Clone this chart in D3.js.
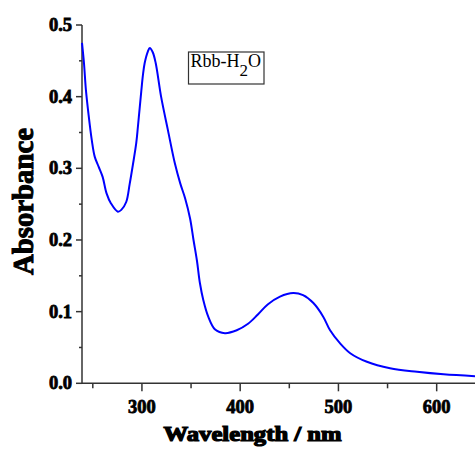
<!DOCTYPE html>
<html><head><meta charset="utf-8">
<script src="https://cdn.jsdelivr.net/npm/d3@7"></script>
<style>body{margin:0;background:#fff}svg{display:block}</style>
</head><body>
<svg id="c" width="475" height="450"></svg>
<script>
const wavelength = [239,241,243,245.5,249,252,256,260,264,268.5,275.5,279,284,287.5,290.8,294.2,295.9,297.7,299.3,301,302.8,306,308,311,314,319.5,326.5,333.5,339,344,349,352.5,356,359,362.5,367.5,374.5,384.5,396.5,408,418,428,440.5,454,464,474.5,484.5,491.5,501.5,512,529,552.5,580,607,639];
const absorbance = [0.475,0.447,0.409,0.377,0.339,0.316,0.302,0.288,0.265,0.251,0.2395,0.242,0.253,0.278,0.305,0.335,0.358,0.384,0.407,0.430,0.447,0.463,0.468,0.462,0.447,0.400,0.353,0.307,0.279,0.258,0.230,0.200,0.171,0.140,0.116,0.093,0.075,0.070,0.074,0.083,0.096,0.110,0.121,0.126,0.123,0.112,0.093,0.074,0.056,0.042,0.030,0.021,0.016,0.0125,0.010];
const xTicks = [300,400,500,600];
const xMinor = [250,350,450,550];
const yTicks = [0.0,0.1,0.2,0.3,0.4,0.5];
const yMinor = [0.05,0.15,0.25,0.35,0.45];
const legendLabel = ["Rbb-H","2","O"];
const xTitle = "Wavelength / nm";
const yTitle = "Absorbance";

const svg = d3.select("#c");
const x = d3.scaleLinear().domain([239,639]).range([82,475]);
const y = d3.scaleLinear().domain([0,0.5]).range([383.3,25]);
const axisColor = "#333";
const font = "'Liberation Serif','Times New Roman',serif";

// x axis
const gx = svg.append("g").attr("transform","translate(0,383.3)");
gx.append("line").attr("x1",82).attr("x2",475).attr("stroke",axisColor).attr("stroke-width",1.5);
gx.selectAll(".mj").data(xTicks).enter().append("line")
  .attr("x1",d=>x(d)).attr("x2",d=>x(d)).attr("y1",0).attr("y2",8).attr("stroke",axisColor).attr("stroke-width",1.5);
gx.selectAll(".mn").data(xMinor).enter().append("line")
  .attr("x1",d=>x(d)).attr("x2",d=>x(d)).attr("y1",0).attr("y2",5).attr("stroke",axisColor).attr("stroke-width",1.5);
gx.selectAll("text").data(xTicks).enter().append("text")
  .attr("x",d=>x(d)).attr("y",30).attr("text-anchor","middle")
  .attr("font-family",font).attr("font-weight","bold").attr("font-size",18.5)
  .attr("stroke","#000").attr("stroke-width",0.8).attr("fill","#000")
  .text(d=>d);

// y axis
const gy = svg.append("g").attr("transform","translate(82,0)");
gy.append("line").attr("y1",25).attr("y2",383.3).attr("stroke",axisColor).attr("stroke-width",1.5);
gy.selectAll(".mj").data(yTicks).enter().append("line")
  .attr("y1",d=>y(d)).attr("y2",d=>y(d)).attr("x1",-6).attr("x2",0).attr("stroke",axisColor).attr("stroke-width",1.5);
gy.selectAll(".mn").data(yMinor).enter().append("line")
  .attr("y1",d=>y(d)).attr("y2",d=>y(d)).attr("x1",-3).attr("x2",0).attr("stroke",axisColor).attr("stroke-width",1.5);
gy.selectAll("text").data(yTicks).enter().append("text")
  .attr("x",-10).attr("y",d=>y(d)+6).attr("text-anchor","end")
  .attr("font-family",font).attr("font-weight","bold").attr("font-size",18.5)
  .attr("stroke","#000").attr("stroke-width",0.8).attr("fill","#000")
  .text(d=>d.toFixed(1));

// titles
svg.append("text").attr("x",252.5).attr("y",441).attr("text-anchor","middle")
  .attr("font-family",font).attr("font-weight","bold").attr("font-size",20)
  .attr("textLength",178).attr("lengthAdjust","spacingAndGlyphs")
  .attr("stroke","#000").attr("stroke-width",1.2).text(xTitle);
svg.append("text").attr("transform","translate(33,201.5) rotate(-90)").attr("text-anchor","middle")
  .attr("font-family",font).attr("font-weight","bold").attr("font-size",29)
  .attr("textLength",147).attr("lengthAdjust","spacingAndGlyphs")
  .attr("stroke","#000").attr("stroke-width",1).text(yTitle);

// curve
const pts = wavelength.map((w,i)=>[w,absorbance[i]]);
svg.append("path").datum(pts)
  .attr("d", d3.line().x(d=>x(d[0])).y(d=>y(d[1])).curve(d3.curveCatmullRom.alpha(0.5)))
  .attr("fill","none").attr("stroke","#0000ff").attr("stroke-width",2);

// legend
svg.append("rect").attr("x",188.5).attr("y",52).attr("width",75.5).attr("height",32)
  .attr("fill","#fff").attr("stroke","#333").attr("stroke-width",1.2);
const lt = svg.append("text").attr("x",190.5).attr("y",67).attr("font-family",font).attr("font-size",18).attr("fill","#000");
lt.append("tspan").text(legendLabel[0]);
lt.append("tspan").attr("dy",9).attr("font-size",17).text(legendLabel[1]);
lt.append("tspan").attr("dy",-9).text(legendLabel[2]);
</script>
</body></html>
